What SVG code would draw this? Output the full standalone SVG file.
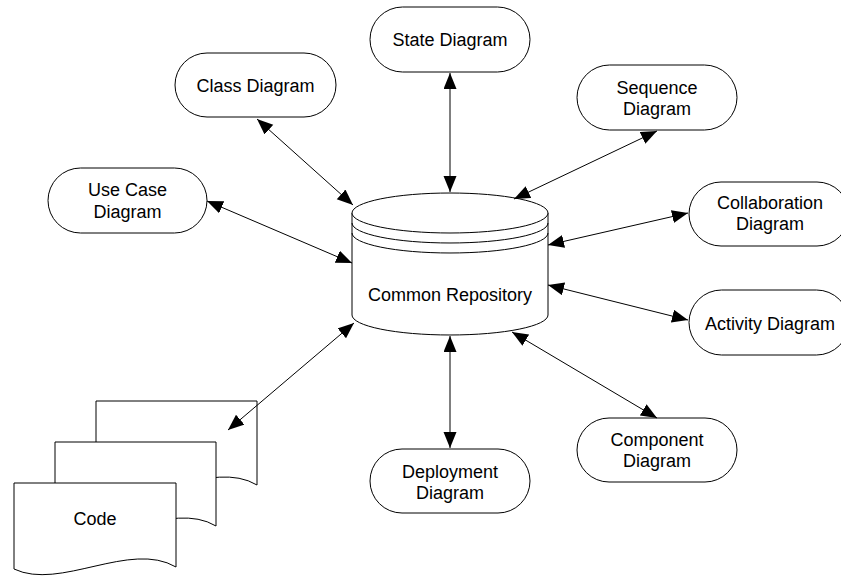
<svg xmlns="http://www.w3.org/2000/svg" width="841" height="576" viewBox="0 0 841 576">
<style>
.n{fill:#fff;stroke:#000;stroke-width:1}
.t{font-family:"Liberation Sans",Arial,sans-serif;font-size:18px;fill:#000;text-anchor:middle}
.c{stroke:#000;stroke-width:1;fill:none;marker-start:url(#ah);marker-end:url(#ah)}
</style>
<defs>
<marker id="ah" markerUnits="userSpaceOnUse" markerWidth="17" markerHeight="14" refX="16" refY="6.5" orient="auto-start-reverse">
<path d="M0,0 L16,6.5 L0,13 Z" fill="#000"/>
</marker>
</defs>
<rect width="841" height="576" fill="#fff"/>
<g id="repository">
<path class="n" d="M352,213 V315 A98,20 0 0 0 548,315 V213 Z"/>
<ellipse class="n" cx="450" cy="213" rx="98" ry="20"/>
<path class="n" style="fill:none" d="M352,223 A98,20 0 0 0 548,223"/>
<path class="n" style="fill:none" d="M352,233 A98,20 0 0 0 548,233"/>
<text class="t" x="450" y="300.5">Common Repository</text>
</g>
<g id="state">
<rect class="n" x="370" y="7" width="160" height="65" rx="32.5"/>
<text class="t" x="450" y="46">State Diagram</text>
</g>
<g id="class">
<rect class="n" x="175" y="53" width="161" height="64" rx="32"/>
<text class="t" x="255.5" y="91.5">Class Diagram</text>
</g>
<g id="usecase">
<rect class="n" x="48" y="168" width="159" height="65" rx="32.5"/>
<text class="t" x="127.5" y="196">Use Case</text>
<text class="t" x="127.5" y="217.5">Diagram</text>
</g>
<g id="sequence">
<rect class="n" x="577" y="65" width="160" height="65" rx="32.5"/>
<text class="t" x="657" y="93.5">Sequence</text>
<text class="t" x="657" y="114.5">Diagram</text>
</g>
<g id="collaboration">
<rect class="n" x="689" y="182" width="160" height="64" rx="32"/>
<text class="t" x="770" y="208.5">Collaboration</text>
<text class="t" x="770" y="229.5">Diagram</text>
</g>
<g id="activity">
<rect class="n" x="689" y="290" width="160" height="65" rx="32.5"/>
<text class="t" x="770" y="329.5">Activity Diagram</text>
</g>
<g id="component">
<rect class="n" x="577" y="418" width="160" height="64" rx="32"/>
<text class="t" x="657" y="446">Component</text>
<text class="t" x="657" y="467">Diagram</text>
</g>
<g id="deployment">
<rect class="n" x="370" y="449" width="160" height="64" rx="32"/>
<text class="t" x="450" y="477.5">Deployment</text>
<text class="t" x="450" y="498.5">Diagram</text>
</g>
<g id="code">
<path class="n" d="M96,401 H257 V485 C212,458 142,510 96,487 Z"/>
<path class="n" d="M55,442 H216 V526 C171,499 101,551 55,528 Z"/>
<path class="n" d="M14,483 H176 V567 C130,540 60,591 14,569 Z"/>
<text class="t" x="95" y="524.5">Code</text>
</g>
<g id="connectors">
<line class="c" x1="450" y1="73" x2="450" y2="192"/>
<line class="c" x1="257" y1="119" x2="353" y2="205"/>
<line class="c" x1="207" y1="201" x2="352" y2="263"/>
<line class="c" x1="657" y1="131" x2="514" y2="199"/>
<line class="c" x1="688" y1="213" x2="548" y2="245"/>
<line class="c" x1="688" y1="320" x2="548" y2="285"/>
<line class="c" x1="657" y1="418" x2="512" y2="332"/>
<line class="c" x1="450" y1="448" x2="450" y2="336"/>
<line class="c" x1="354" y1="323" x2="228" y2="430"/>
</g>
</svg>
